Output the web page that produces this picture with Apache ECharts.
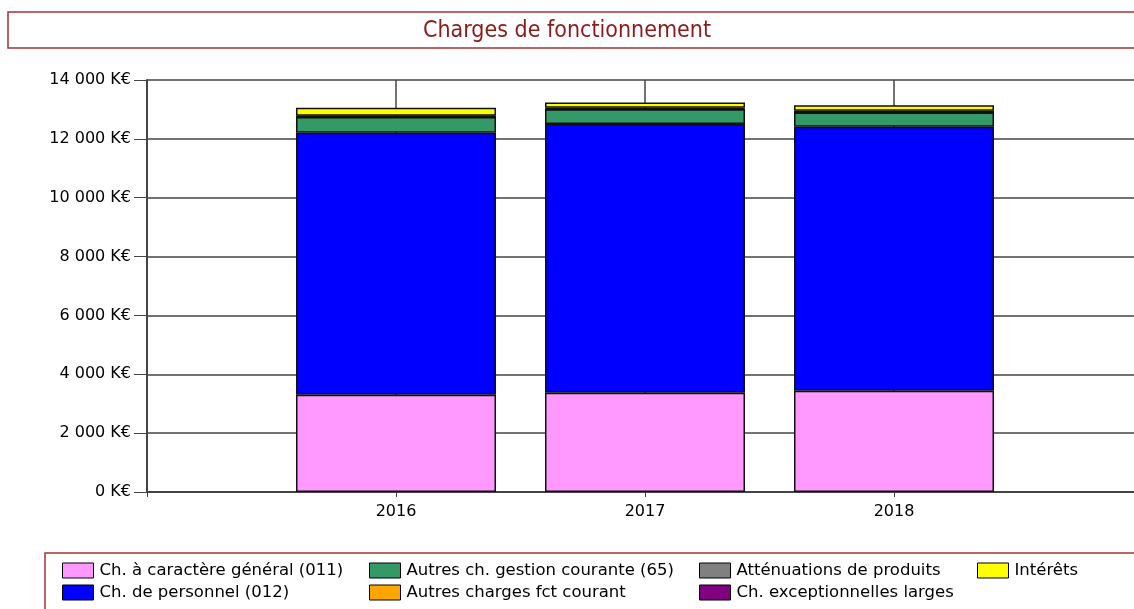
<!DOCTYPE html>
<html lang="fr">
<head>
    <meta charset="UTF-8">
    <title>Charges de fonctionnement</title>
    <style>
        html, body { margin: 0; padding: 0; background: #fff; }
        #main { width: 1134px; height: 609px; }
    </style>
</head>
<body>
<div id="main"></div>
<script src="https://cdn.jsdelivr.net/npm/echarts@6/dist/echarts.min.js"></script>
<script>
    // donnees (K€)
    var annees = ['2016', '2017', '2018'];
    var chGeneral = [3305, 3373, 3441];        // 011
    var chPersonnel = [8905, 9129, 8973];      // 012
    var autresGestion = [529, 508, 484];       // 65
    var attenuations = [0, 0, 0];
    var autresFct = [0, 0, 0];
    var exceptionnelles = [50, 50, 55];
    var interets = [264, 177, 193];
    var yTicks = [0, 2000, 4000, 6000, 8000, 10000, 12000, 14000];

    var police = 'DejaVu Sans';
    var rouge = '#a83232';

    // axe avec une case vide de chaque cote pour centrer les barres sur les traits
    function pad(arr) { return ['-'].concat(arr, ['-']); }
    var axeX = [''].concat(annees, ['']);

    function serie(nom, data, couleur) {
        return {
            name: nom,
            type: 'bar',
            stack: 'total',
            barWidth: 200,
            data: pad(data),
            itemStyle: { color: couleur, borderColor: '#111', borderWidth: 1.5 },
            emphasis: { disabled: true }
        };
    }

    var myChart = echarts.init(document.getElementById('main'));
    var legendeStyle = {
        orient: 'vertical',
        top: 557,
        itemWidth: 31,
        itemHeight: 15,
        itemGap: 5,
        icon: 'rect',
        textStyle: { fontFamily: police, fontSize: 16.5, color: '#000', padding: [0, 0, 0, 1] },
        itemStyle: { borderColor: '#000', borderWidth: 1 },
        selectedMode: false
    };

    var option = {
        animation: false,
        backgroundColor: '#fff',
        title: {
            text: 'Charges de fonctionnement',
            left: 'center',
            top: 15,
            textStyle: { fontFamily: 'DejaVu Sans Condensed', fontSize: 23, fontWeight: 'normal', color: '#8b1a1a' }
        },
        graphic: [
            { type: 'rect', shape: { x: 8, y: 12, width: 1140, height: 36 }, style: { fill: 'none', stroke: rouge, lineWidth: 1.5 }, z: -1 },
            { type: 'rect', shape: { x: 45, y: 553, width: 1100, height: 70 }, style: { fill: 'none', stroke: rouge, lineWidth: 1.5 }, z: -1 }
        ],
        legend: [
            Object.assign({ left: 57, data: ['Ch. à caractère général (011)', 'Ch. de personnel (012)'] }, legendeStyle),
            Object.assign({ left: 364, data: ['Autres ch. gestion courante (65)', 'Autres charges fct courant'] }, legendeStyle),
            Object.assign({ left: 694, data: ['Atténuations de produits', 'Ch. exceptionnelles larges'] }, legendeStyle),
            Object.assign({ left: 972, data: ['Intérêts'] }, legendeStyle)
        ],
        grid: { left: 147, width: 996, top: 80, bottom: 117, containLabel: false, outerBoundsMode: 'none' },
        xAxis: {
            type: 'category',
            data: axeX,
            boundaryGap: false,
            axisLine: { lineStyle: { color: '#444', width: 2 } },
            axisTick: { show: true, length: 5, lineStyle: { color: '#444' } },
            axisLabel: { fontFamily: police, fontSize: 16, color: '#000', margin: 12 },
            splitLine: { show: true, lineStyle: { color: '#444', width: 1.5 } }
        },
        yAxis: {
            type: 'value',
            min: 0,
            max: yTicks[yTicks.length - 1],
            interval: yTicks[1] - yTicks[0],
            axisLine: { show: true, lineStyle: { color: '#444', width: 2 } },
            axisTick: { show: true, length: 13, lineStyle: { color: '#444' } },
            axisLabel: {
                fontFamily: police, fontSize: 16, color: '#000', margin: 16,
                formatter: function (v) {
                    return String(v).replace(/\B(?=(\d{3})+(?!\d))/g, ' ') + ' K€';
                }
            },
            splitLine: { show: true, lineStyle: { color: '#444', width: 1.5 } }
        },
        series: [
            serie('Ch. à caractère général (011)', chGeneral, '#ff99ff'),
            serie('Ch. de personnel (012)', chPersonnel, '#0000ff'),
            serie('Autres ch. gestion courante (65)', autresGestion, '#339966'),
            serie('Atténuations de produits', attenuations, '#808080'),
            serie('Autres charges fct courant', autresFct, '#ffa500'),
            serie('Ch. exceptionnelles larges', exceptionnelles, '#800080'),
            serie('Intérêts', interets, '#ffff00')
        ]
    };
    myChart.setOption(option);
</script>
</body>
</html>
